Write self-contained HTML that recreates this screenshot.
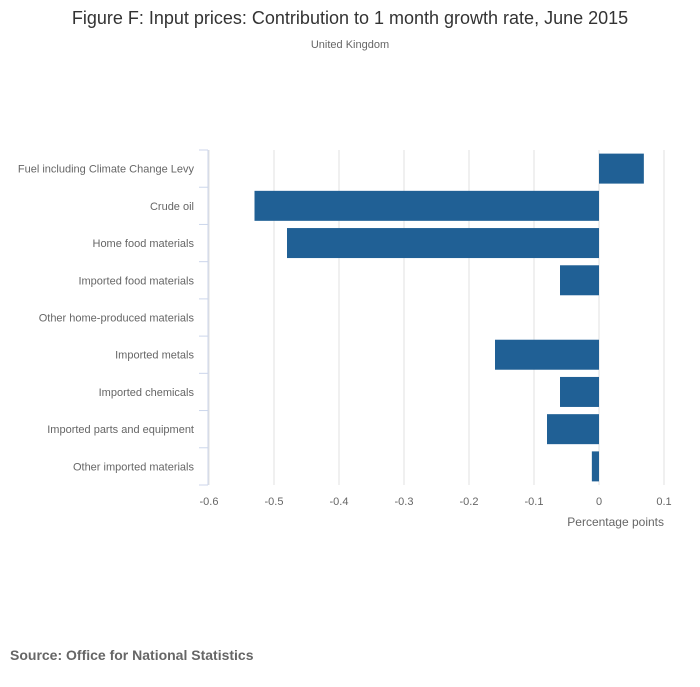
<!DOCTYPE html>
<html><head><meta charset="utf-8"><style>
body{margin:0;background:#fff;font-family:"Liberation Sans",sans-serif;}
</style></head><body>
<svg width="700" height="682" xmlns="http://www.w3.org/2000/svg">
<rect width="700" height="682" fill="#fff"/>
<text x="350" y="24" text-anchor="middle" font-size="18" fill="#333">Figure F: Input prices: Contribution to 1 month growth rate, June 2015</text>
<text x="350" y="48" text-anchor="middle" font-size="11" fill="#666">United Kingdom</text>
<g id="plot"></g>
<text x="664" y="526" text-anchor="end" font-size="12" fill="#666">Percentage points</text>
<text x="10" y="660" font-size="14" font-weight="bold" fill="#666">Source: Office for National Statistics</text>
</svg>
<script>
const categories=["Fuel including Climate Change Levy","Crude oil","Home food materials","Imported food materials","Other home-produced materials","Imported metals","Imported chemicals","Imported parts and equipment","Other imported materials"];
const values=[0.069,-0.53,-0.48,-0.06,0,-0.16,-0.06,-0.08,-0.011];
const ticks=[-0.6,-0.5,-0.4,-0.3,-0.2,-0.1,0,0.1];
const ns="http://www.w3.org/2000/svg";
const plotG=document.getElementById("plot");
const x0=209,x1=664,yTop=150,yBot=485;
const xs=v=>x0+(v+0.6)/0.7*(x1-x0);
const band=(yBot-yTop)/categories.length;
function el(t,a){const e=document.createElementNS(ns,t);for(const k in a)e.setAttribute(k,a[k]);plotG.appendChild(e);return e;}
ticks.forEach(t=>{
 const l=el("line",{x1:xs(t),x2:xs(t),y1:yTop,y2:yBot,stroke:"#e2e2e2"});
 
 
 const tx=el("text",{x:xs(t),y:505,"text-anchor":"middle","font-size":11,fill:"#666"});
 tx.textContent=String(t);
 
 
});
const ax=el("line",{x1:208,x2:208,y1:yTop,y2:yBot,stroke:"#ccd6eb"});


for(let i=0;i<=categories.length;i++){
 const y=yTop+i*band;
 const tk=el("line",{x1:199,x2:208,y1:y,y2:y,stroke:"#ccd6eb"});
 
 
}
categories.forEach((c,i)=>{
 const cy=yTop+(i+0.5)*band;
 const tx=el("text",{x:194,y:cy+4,"text-anchor":"end","font-size":11,fill:"#666"});
 tx.textContent=c;
 
 
 const v=values[i];
 const a=xs(Math.min(0,v)),b=xs(Math.max(0,v));
 const r=el("rect",{x:a,y:cy-15,width:b-a,height:30,fill:"#206095"});
 
 
});
</script>
</body></html>
